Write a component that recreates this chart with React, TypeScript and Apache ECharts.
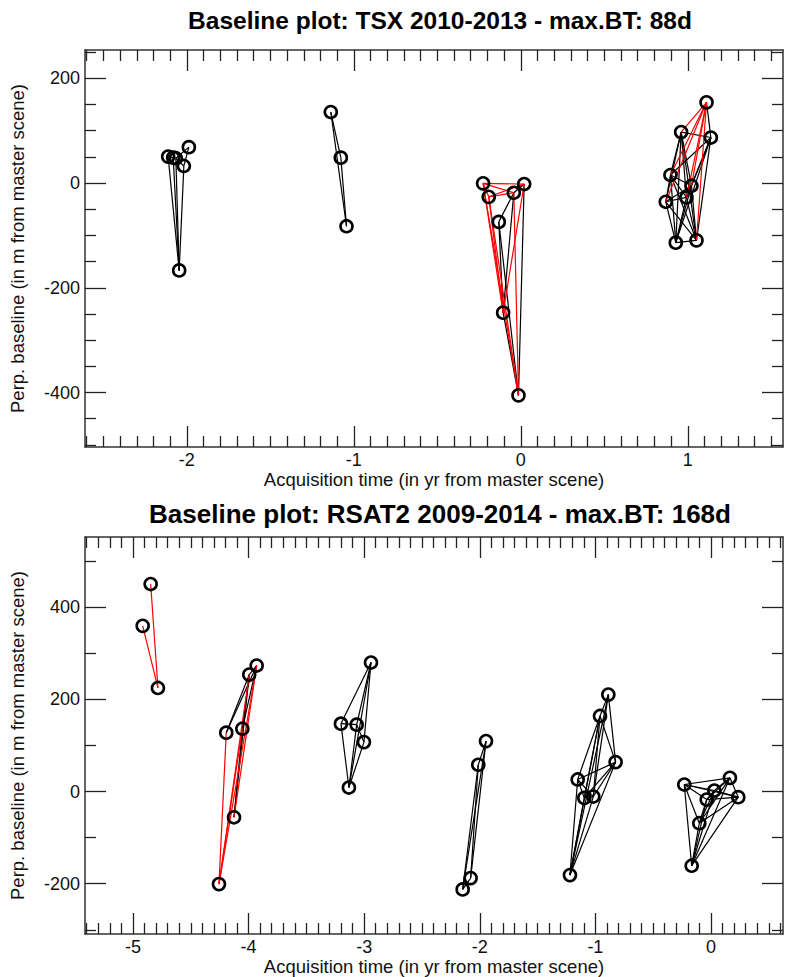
import React, { useEffect, useRef } from "react";
import * as echarts from "echarts";

// ---------- TSX 2010-2013 ----------
const tsxTime = [
  -2.112, -2.082, -2.066, -1.988, -2.018, -2.046,
  -1.138, -1.078, -1.044,
  -0.226, 0.02, -0.192, -0.042, -0.132, -0.106, -0.014,
  1.112, 0.96, 1.138, 0.896, 1.022, 0.868, 0.992, 0.928, 1.052,
];
const tsxBaseline = [
  50.5, 48.6, 47.4, 68.5, 32.6, -166.9,
  135.6, 48.5, -82.5,
  -0.6, -1.9, -26.3, -18.6, -74.2, -247.5, -405.4,
  154.1, 97.2, 86.9, 15.3, -5.1, -35.8, -27.5, -113.8, -109.4,
];
const tsxBlackEdges = [
  [5, 0], [5, 1], [5, 2], [5, 4], [0, 1], [1, 2], [2, 4], [4, 3], [2, 3],
  [6, 7], [7, 8], [6, 8],
  [10, 15], [12, 13], [12, 14], [13, 14], [14, 15], [13, 15], [12, 10],
  [16, 18],
  [17, 18], [17, 19], [17, 20], [17, 21], [17, 22], [17, 23], [17, 24],
  [18, 19], [18, 20], [18, 22], [18, 23], [18, 24],
  [19, 20], [19, 21], [19, 22], [19, 23], [19, 24],
  [20, 21], [20, 22], [20, 23], [20, 24],
  [21, 22], [21, 23], [21, 24], [22, 23], [22, 24], [23, 24],
];
const tsxRedEdges = [
  [9, 10], [9, 11], [9, 12], [11, 10], [11, 12], [9, 14], [9, 15],
  [11, 14], [11, 15], [10, 14], [12, 15],
  [16, 17], [16, 19], [16, 20], [16, 21], [16, 22], [16, 24],
];
const tsxXTicks = [-2, -1, 0, 1];
const tsxYTicks = [-400, -200, 0, 200];

// ---------- RSAT2 2009-2014 ----------
const rsatTime = [
  -4.847, -4.916, -4.784,
  -3.93, -3.994, -4.193, -4.054, -4.126, -4.256,
  -2.941, -3.201, -3.065, -3.002, -3.132,
  -1.946, -2.013, -2.079, -2.148,
  -0.888, -0.96, -0.825, -1.153, -1.096, -1.018, -1.22,
  -0.231, 0.164, 0.029, 0.236, -0.037, -0.101, -0.167,
];
const rsatBaseline = [
  450, 359.4, 224.6,
  273.2, 253.6, 127.6, 136.2, -55.8, -200.7,
  279.8, 147.1, 145, 107.2, 8.7,
  109.4, 58, -187.7, -212.3,
  210.2, 163.8, 63.8, 26.1, -13.8, -10.9, -181.2,
  15.2, 29.7, 2.2, -12.3, -17.4, -68.8, -160.9,
];
const rsatBlackEdges = [
  [5, 4], [5, 3], [6, 4], [6, 3], [7, 4], [7, 6], [3, 4],
  [9, 10], [9, 11], [9, 12], [9, 13], [10, 11], [10, 13], [11, 12], [11, 13], [12, 13],
  [14, 16], [14, 17], [15, 16], [15, 17], [14, 15], [16, 17],
  [24, 21], [24, 22], [24, 23], [24, 19], [24, 18], [24, 20],
  [19, 21], [19, 22], [19, 23], [19, 20], [19, 18], [18, 20], [18, 23],
  [20, 21], [20, 22], [20, 23], [21, 22], [22, 23], [21, 23],
  [31, 25], [31, 30], [31, 29], [31, 27], [31, 26], [31, 28],
  [25, 26], [25, 27], [25, 29], [25, 30], [25, 28],
  [30, 29], [30, 27], [30, 26], [30, 28],
  [29, 27], [29, 26], [29, 28], [27, 26], [27, 28], [26, 28],
];
const rsatRedEdges = [
  [0, 2], [1, 2],
  [8, 5], [8, 6], [8, 3], [8, 4], [7, 3],
];
const rsatXTicks = [-5, -4, -3, -2, -1, 0];
const rsatYTicks = [-200, 0, 200, 400];

const titles = [
  "Baseline plot: TSX 2010-2013 - max.BT: 88d",
  "Baseline plot: RSAT2 2009-2014 - max.BT: 168d",
];
const xName = "Acquisition time (in yr from master scene)";
const yName = "Perp. baseline (in m from master scene)";

const FONT = "Liberation Sans, Arial, Helvetica, sans-serif";

function stepValues(min: number, max: number, step: number, exclude: number[]) {
  const out: number[] = [];
  const start = Math.ceil(min / step - 1e-9);
  const end = Math.floor(max / step + 1e-9);
  for (let i = start; i <= end; i++) {
    const v = +(i * step).toFixed(6);
    if (!exclude.some((e) => Math.abs(e - v) < 1e-9)) out.push(v);
  }
  return out;
}

export default function App() {
  const ref = useRef<HTMLDivElement>(null);
  useEffect(() => {
    if (!ref.current) return;
    const chart = echarts.init(ref.current, undefined, { renderer: "svg" });

    const panels = [
      {
        top: 50, height: 397,
        xmin: -2.61, xmax: 1.57, ymin: -504, ymax: 254,
        xTicks: tsxXTicks, yTicks: tsxYTicks, xMinorStep: 0.1, yMinorStep: 50,
        time: tsxTime, base: tsxBaseline, black: tsxBlackEdges, red: tsxRedEdges,
      },
      {
        top: 537, height: 397,
        xmin: -5.415, xmax: 0.623, ymin: -309, ymax: 552,
        xTicks: rsatXTicks, yTicks: rsatYTicks, xMinorStep: 0.1, yMinorStep: 100,
        time: rsatTime, base: rsatBaseline, black: rsatBlackEdges, red: rsatRedEdges,
      },
    ];

    const grid: any[] = [];
    const xAxis: any[] = [];
    const yAxis: any[] = [];
    const series: any[] = [];
    const line = { show: true, onZero: false, lineStyle: { color: "#333", width: 1.5 } };
    const noLine = { show: false, onZero: false };
    const tickStyle = { color: "#222", width: 1.3 };

    panels.forEach((p, g) => {
      grid.push({ left: 85, right: 6, top: p.top, height: p.height });
      const xMinor = stepValues(p.xmin, p.xmax, p.xMinorStep, p.xTicks);
      const yMinor = stepValues(p.ymin, p.ymax, p.yMinorStep, p.yTicks);
      const baseX = { type: "value", gridIndex: g, min: p.xmin, max: p.xmax, splitLine: { show: false } };
      const baseY = { type: "value", gridIndex: g, min: p.ymin, max: p.ymax, splitLine: { show: false } };
      xAxis.push({
        ...baseX, position: "bottom", axisLine: line,
        axisTick: { show: true, inside: true, length: 21, customValues: p.xTicks, lineStyle: tickStyle },
        axisLabel: { show: true, customValues: p.xTicks, margin: 4, color: "#111", fontSize: 18, fontFamily: FONT },
        name: xName, nameLocation: "middle", nameGap: 23,
        nameTextStyle: { color: "#111", fontSize: 18.5, fontFamily: FONT },
      });
      xAxis.push({
        ...baseX, position: "bottom", axisLine: noLine,
        axisTick: { show: true, inside: true, length: 11, customValues: xMinor, lineStyle: tickStyle },
        axisLabel: { show: false },
      });
      xAxis.push({
        ...baseX, position: "top", axisLine: line,
        axisTick: { show: true, inside: true, length: 21, customValues: p.xTicks, lineStyle: tickStyle },
        axisLabel: { show: false },
      });
      xAxis.push({
        ...baseX, position: "top", axisLine: noLine,
        axisTick: { show: true, inside: true, length: 11, customValues: xMinor, lineStyle: tickStyle },
        axisLabel: { show: false },
      });
      yAxis.push({
        ...baseY, position: "left", axisLine: line,
        axisTick: { show: true, inside: true, length: 21, customValues: p.yTicks, lineStyle: tickStyle },
        axisLabel: { show: true, customValues: p.yTicks, margin: 5, color: "#111", fontSize: 18, fontFamily: FONT },
        name: yName, nameLocation: "middle", nameGap: 58,
        nameTextStyle: { color: "#111", fontSize: 18.5, fontFamily: FONT },
      });
      yAxis.push({
        ...baseY, position: "left", axisLine: noLine,
        axisTick: { show: true, inside: true, length: 11, customValues: yMinor, lineStyle: tickStyle },
        axisLabel: { show: false },
      });
      yAxis.push({
        ...baseY, position: "right", axisLine: line,
        axisTick: { show: true, inside: true, length: 21, customValues: p.yTicks, lineStyle: tickStyle },
        axisLabel: { show: false },
      });
      yAxis.push({
        ...baseY, position: "right", axisLine: noLine,
        axisTick: { show: true, inside: true, length: 11, customValues: yMinor, lineStyle: tickStyle },
        axisLabel: { show: false },
      });

      const xi = g * 4;
      const yi = g * 4;
      const toCoords = (edges: number[][]) =>
        edges.map(([a, b]) => ({
          coords: [
            [p.time[a], p.base[a]],
            [p.time[b], p.base[b]],
          ],
        }));
      series.push({
        type: "lines", coordinateSystem: "cartesian2d", xAxisIndex: xi, yAxisIndex: yi,
        data: toCoords(p.black), z: 2, silent: true,
        lineStyle: { color: "#000", width: 1.2, opacity: 1 },
      });
      series.push({
        type: "lines", coordinateSystem: "cartesian2d", xAxisIndex: xi, yAxisIndex: yi,
        data: toCoords(p.red), z: 3, silent: true,
        lineStyle: { color: "#ff0000", width: 1.2, opacity: 1 },
      });
      series.push({
        type: "scatter", xAxisIndex: xi, yAxisIndex: yi, z: 5,
        data: p.time.map((t, i) => [t, p.base[i]]),
        symbol: "circle", symbolSize: 12,
        itemStyle: { color: "rgba(0,0,0,0)", borderColor: "#000", borderWidth: 2.6, opacity: 1 },
      });
    });

    chart.setOption({
      animation: false,
      backgroundColor: "#fff",
      title: titles.map((t, i) => ({
        text: t,
        left: 440,
        top: i === 0 ? 8 : 501,
        textAlign: "center",
        padding: 0,
        textStyle: { fontSize: i === 0 ? 24.5 : 26, fontWeight: "bold", color: "#000", fontFamily: FONT },
      })),
      grid,
      xAxis,
      yAxis,
      series,
    });
    return () => chart.dispose();
  }, []);
  return (
    <div
      ref={ref}
      style={{ position: "fixed", left: 0, top: 0, width: 789, height: 977, background: "#fff" }}
    />
  );
}
